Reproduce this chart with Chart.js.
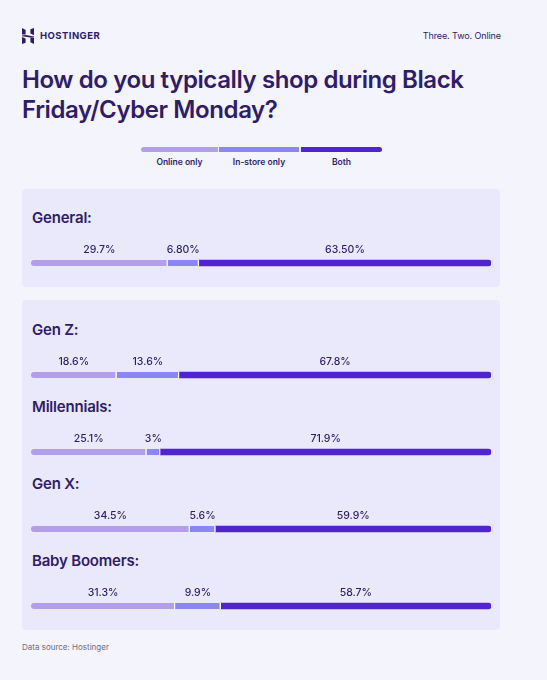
<!DOCTYPE html>
<html>
<head>
<meta charset="utf-8">
<script src="https://cdn.jsdelivr.net/npm/chart.js@4.4.0/dist/chart.umd.min.js"></script>
<style>
  html, body { margin: 0; padding: 0; }
  body {
    width: 547px; height: 680px; position: relative; overflow: hidden;
    background: #F4F4FD; font-family: "Inter", "DejaVu Sans", sans-serif; color: #2F1C6A;
  }
  .abs { position: absolute; white-space: nowrap; }
  .panel { position: absolute; left: 22px; width: 478px; background: #EAE9FB; border-radius: 4px; }
  .group { position: absolute; left: 32px; font-size: 15px; font-weight: 600; line-height: 20px; letter-spacing: -0.2px; }
  .row { position: absolute; left: 31px; width: 460px; height: 30px; }
  .leg-seg { position: absolute; top: 147px; height: 5px; }
  .leg-lab { position: absolute; top: 156px; font-size: 8.5px; font-weight: 600; line-height: 12px; text-align: center; width: 80px; }
</style>
</head>
<body>
<svg class="abs" style="left:22px;top:28px" width="12" height="16" viewBox="0 0 12 16">
  <g fill="#2F1C6A">
    <polygon points="0,0 3.6,1.9 3.6,6.4 0,6.4"/>
    <polygon points="8.4,1.2 12,0 12,7.2 8.4,5.6"/>
    <polygon points="0,7.4 3.6,6.9 12,8.4 12,8.9 8.4,9.4 0,8.2"/>
    <polygon points="0,8.9 3.6,10.4 3.6,14.8 0,16"/>
    <polygon points="8.4,9.6 12,9.6 12,16 8.4,14.2"/>
  </g>
</svg>
<div class="abs" style="left:40px;top:30px;font-size:9.5px;font-weight:700;letter-spacing:0.45px;line-height:12px">HOSTINGER</div>
<div class="abs" style="right:46px;top:30px;font-size:9px;line-height:12px;letter-spacing:-0.1px">Three. Two. Online</div>
<div class="abs" style="left:22px;top:65px;font-size:24px;font-weight:600;line-height:30px;letter-spacing:-0.4px">How do you typically shop during Black<br>Friday/Cyber Monday?</div>

<div id="legend"></div>

<div class="panel" style="top:189px;height:98px"></div>
<div class="panel" style="top:300px;height:330px"></div>

<div id="rows"></div>

<div class="abs" style="left:22px;top:642px;font-size:8px;line-height:10px;color:#6E6C86">Data source: Hostinger</div>

<script>
// Datos del gráfico
const groups = ["General:", "Gen Z:", "Millennials:", "Gen X:", "Baby Boomers:"];
const seriesNames = ["Online only", "In-store only", "Both"];
const onlineOnly = [29.7, 18.6, 25.1, 34.5, 31.3];
const inStoreOnly = [6.8, 13.6, 3, 5.6, 9.9];
const both = [63.5, 67.8, 71.9, 59.9, 58.7];
const onlineText = ["29.7%", "18.6%", "25.1%", "34.5%", "31.3%"];
const inStoreText = ["6.80%", "13.6%", "3%", "5.6%", "9.9%"];
const bothText = ["63.50%", "67.8%", "71.9%", "59.9%", "58.7%"];

// Estilos
const colors = ["#B29EE9", "#8B86F3", "#5024CF"];
const gapColor = "#F4F4FD";
const barCenters = [263, 375, 452, 529, 606];

// Leyenda (barra de tres partes)
const legend = document.getElementById("legend");
const legLeft = [141, 219, 301];
const legWidth = [77, 80, 81];
seriesNames.forEach(function (name, i) {
  const seg = document.createElement("div");
  seg.className = "leg-seg";
  seg.style.left = legLeft[i] + "px";
  seg.style.width = legWidth[i] + "px";
  seg.style.background = colors[i];
  if (i === 0) seg.style.borderRadius = "3px 0 0 3px";
  if (i === 2) seg.style.borderRadius = "0 3px 3px 0";
  legend.appendChild(seg);
  const lab = document.createElement("div");
  lab.className = "leg-lab";
  lab.style.left = (legLeft[i] + legWidth[i] / 2 - 40) + "px";
  lab.textContent = name;
  legend.appendChild(lab);
});

// Plugin para dibujar el porcentaje sobre cada segmento
const segmentLabels = {
  id: "segmentLabels",
  afterDatasetsDraw: function (chart) {
    const ctx = chart.ctx;
    ctx.save();
    ctx.font = "500 10.5px Inter, 'DejaVu Sans', sans-serif";
    ctx.fillStyle = "#2F1C6A";
    ctx.textAlign = "center";
    ctx.textBaseline = "middle";
    chart.data.datasets.forEach(function (ds, i) {
      const bar = chart.getDatasetMeta(i).data[0];
      const cx = (bar.x + bar.base) / 2;
      ctx.fillText(ds.texts[0], cx, bar.y - 13);
    });
    ctx.restore();
  }
};

const rows = document.getElementById("rows");
groups.forEach(function (group, i) {
  const lab = document.createElement("div");
  lab.className = "group";
  lab.style.top = (barCenters[i] - 46 - 9) + "px";
  lab.textContent = group;
  rows.appendChild(lab);

  const box = document.createElement("div");
  box.className = "row";
  box.style.top = (barCenters[i] - 24) + "px";
  const canvas = document.createElement("canvas");
  box.appendChild(canvas);
  rows.appendChild(box);

  const values = [onlineOnly[i], inStoreOnly[i], both[i]];
  const texts = [onlineText[i], inStoreText[i], bothText[i]];
  const total = values[0] + values[1] + values[2];

  new Chart(canvas.getContext("2d"), {
    type: "bar",
    data: {
      labels: [group],
      datasets: values.map(function (v, k) {
        return {
          label: seriesNames[k],
          data: [v],
          texts: [texts[k]],
          backgroundColor: colors[k],
          borderColor: gapColor,
          borderSkipped: false,
          borderWidth: k < 2 ? { left: 0, right: 1.5, top: 0, bottom: 0 } : 0,
          borderRadius: k === 0 ? { topLeft: 3, bottomLeft: 3, topRight: 0, bottomRight: 0 }
                      : k === 2 ? { topLeft: 0, bottomLeft: 0, topRight: 3, bottomRight: 3 } : 0,
          barThickness: 6
        };
      })
    },
    options: {
      indexAxis: "y",
      responsive: true,
      maintainAspectRatio: false,
      animation: false,
      layout: { padding: { top: 18, bottom: 0, left: 0, right: 0 } },
      scales: {
        x: { stacked: true, min: 0, max: total, display: false },
        y: { stacked: true, display: false }
      },
      plugins: { legend: { display: false }, tooltip: { enabled: false } }
    },
    plugins: [segmentLabels]
  });
});
</script>
</body>
</html>
